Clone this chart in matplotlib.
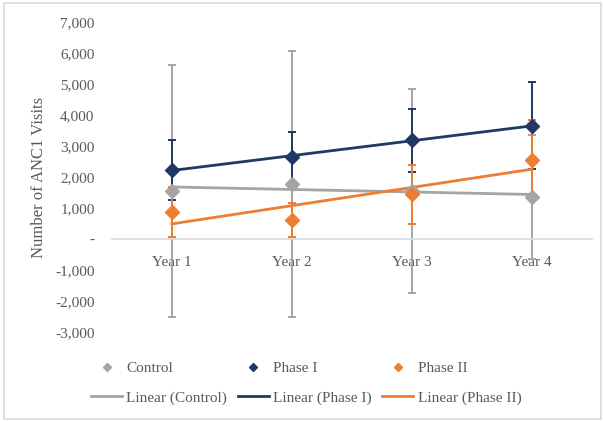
import matplotlib
matplotlib.use("Agg")
import matplotlib.pyplot as plt
from matplotlib.patches import Rectangle
from matplotlib.ticker import FuncFormatter
import numpy as np

plt.rcParams['font.family'] = ['Liberation Serif', 'DejaVu Serif']

years = ['Year 1', 'Year 2', 'Year 3', 'Year 4']
control = [1550, 1775, 1550, 1355]
control_err = [4050, 4300, 3300, 2000]
phase1 = [2230, 2650, 3190, 3650]
phase1_err = [970, 800, 1020, 1400]
phase2 = [870, 610, 1450, 2550]
phase2_err = [800, 560, 950, 1300]

series = [
    ('Control', control, control_err, '#A5A5A5'),
    ('Phase I', phase1, phase1_err, '#1F3864'),
    ('Phase II', phase2, phase2_err, '#ED7D31'),
]

fig = plt.figure(figsize=(6.03, 4.21), dpi=100)
ax = fig.add_axes([0.1857, 0.2114, 0.796, 0.7363])
x = np.arange(1, len(years) + 1)

handles = []
for name, vals, err, col in series:
    ax.errorbar(x, vals, yerr=err, fmt='none', ecolor=col, elinewidth=1.4,
                capsize=3, capthick=1.4, zorder=2)
    pts, = ax.plot(x, vals, linestyle='none', marker='D', markersize=7,
                   color=col, zorder=4, label=name)
    # trendline like Excel's "Linear (...)" series
    k, b = np.polyfit(x, vals, 1)
    ln, = ax.plot(x, k * x + b, color=col, linewidth=2, zorder=3,
                  label='Linear (%s)' % name)
    handles += [pts, ln]

ax.set_xlim(0.5, 4.5)
ax.set_ylim(-3000, 7000)
ax.set_yticks(range(-3000, 7001, 1000))
ax.yaxis.set_major_formatter(FuncFormatter(
    lambda v, p: '-' if v == 0 else '{:,.0f}'.format(v)))
ax.set_xticks(x)
ax.set_xticklabels(years)
for s in ['top', 'right', 'left']:
    ax.spines[s].set_visible(False)
ax.spines['bottom'].set_position(('data', 0))
ax.spines['bottom'].set_color('#D9D9D9')
ax.spines['bottom'].set_linewidth(1.2)
ax.tick_params(axis='both', length=0, labelsize=11, labelcolor='#595959')
ax.tick_params(axis='x', pad=12)
ax.tick_params(axis='y', pad=12.5)
ax.set_ylabel('Number of ANC1 Visits', fontsize=12, color='#595959', labelpad=6)

fig.legend(handles=handles, ncol=3, loc='center', bbox_to_anchor=(0.508, 0.09),
           frameon=False, fontsize=11, labelcolor='#595959', handlelength=2,
           handletextpad=0.3, columnspacing=0.7, markerscale=0.6,
           labelspacing=1.0)

fig.add_artist(Rectangle((0.006, 0.004), 0.99, 0.988, transform=fig.transFigure,
                         fill=False, edgecolor='#D9D9D9', linewidth=1.2))

fig.savefig('out.png', dpi=100)
